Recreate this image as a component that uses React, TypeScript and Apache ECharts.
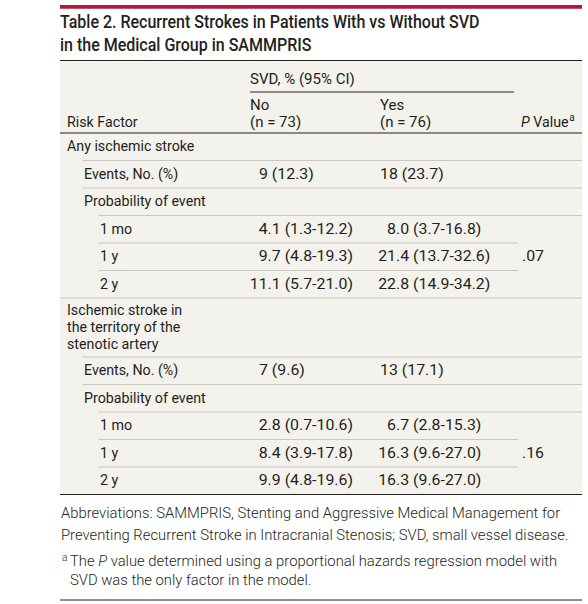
import React, { useEffect, useRef } from "react";
import * as echarts from "echarts";

// ---------- data ----------
const titleLines = [
  "Table 2. Recurrent Strokes in Patients With vs Without SVD",
  "in the Medical Group in SAMMPRIS",
];
const groupHeader = "SVD, % (95% CI)";
const stubHeader = "Risk Factor";
const noHeader = ["No", "(n = 73)"];
const yesHeader = ["Yes", "(n = 76)"];
const pHeaderItalic = "P";
const pHeaderRest = " Value";
const pHeaderSup = "a";

const rowLabels = [
  "Any ischemic stroke",
  "Events, No. (%)",
  "Probability of event",
  "1 mo",
  "1 y",
  "2 y",
  "Ischemic stroke in\nthe territory of the\nstenotic artery",
  "Events, No. (%)",
  "Probability of event",
  "1 mo",
  "1 y",
  "2 y",
];
const rowLevels = [0, 1, 1, 2, 2, 2, 0, 1, 1, 2, 2, 2];
const noValues = [
  "", "9 (12.3)", "", "4.1 (1.3-12.2)", "9.7 (4.8-19.3)", "11.1 (5.7-21.0)",
  "", "7 (9.6)", "", "2.8 (0.7-10.6)", "8.4 (3.9-17.8)", "9.9 (4.8-19.6)",
];
const yesValues = [
  "", "18 (23.7)", "", "8.0 (3.7-16.8)", "21.4 (13.7-32.6)", "22.8 (14.9-34.2)",
  "", "13 (17.1)", "", "6.7 (2.8-15.3)", "16.3 (9.6-27.0)", "16.3 (9.6-27.0)",
];
const pValues = ["", "", "", "", ".07", "", "", "", "", "", ".16", ""];

const abbreviationLines = [
  "Abbreviations: SAMMPRIS, Stenting and Aggressive Medical Management for",
  "Preventing Recurrent Stroke in Intracranial Stenosis; SVD, small vessel disease.",
];
const footnoteMark = "a";
const footnoteLines = [
  "The {i|P} value determined using a proportional hazards regression model with",
  "SVD was the only factor in the model.",
];

// ---------- layout / style ----------
const W = 588;
const H = 604;
const FONT = "Roboto, 'Liberation Sans', sans-serif";
const INK = "#231f20";
const BEIGE = "#f4f2ec";
const RULE_GRAY = "#c9c6bf";
const RED = "#b3173c";
const L = 60;
const R = 582;
const BODY_SIZE = 15;
const FOOT_SIZE = 14.8;
const LABEL_SCALE = 0.95;
const VALUE_SCALE = 1.06;
const labelX = [67, 84, 100];
const noLeft = 259;
const yesLeft = 380;
const noDecimal = 267.6;
const yesDecimal = 396;
const pX = 522;
const pInnerEnd = 518;
const headerTop = 60.5;
const headerBottom = 133;
const rowBase = 27.5;
const rowExtraLine = 15.75;
const lineH = 16.7;

function measure(text: string, size: number, weight = "normal", style = "normal") {
  const c = document.createElement("canvas").getContext("2d")!;
  c.font = `${style} ${weight} ${size}px ${FONT}`;
  return c.measureText(text).width;
}

function txt(x: number, y: number, text: string, o: any = {}) {
  const align = o.align || "left";
  const va = o.va || "middle";
  return {
    type: "text",
    x,
    y,
    silent: true,
    scaleX: o.scaleX || 1,
    style: {
      text,
      fill: o.fill || INK,
      fontSize: o.size || BODY_SIZE,
      fontFamily: FONT,
      fontWeight: o.weight || "normal",
      fontStyle: o.style || "normal",
      align,
      textAlign: align,
      verticalAlign: va,
      textVerticalAlign: va,
      lineHeight: o.lineHeight,
      rich: o.rich,
    },
  };
}

function hline(x1: number, x2: number, y: number, color: string, w = 1) {
  return {
    type: "line",
    silent: true,
    shape: { x1, y1: y, x2, y2: y },
    style: { stroke: color, lineWidth: w },
  };
}

function buildElements() {
  const els: any[] = [];
  // red top bar
  els.push({ type: "rect", silent: true, shape: { x: L, y: 5, width: R - L, height: 3.7 }, style: { fill: RED } });
  // title
  titleLines.forEach((t, i) => {
    els.push(txt(L, 21.5 + i * 23, t, { size: 18, weight: 500, scaleX: 0.89 }));
  });
  // table background
  els.push({ type: "rect", silent: true, shape: { x: L, y: headerTop, width: R - L, height: 494 - headerTop }, style: { fill: BEIGE } });
  els.push(hline(L, R, headerTop, INK, 1));
  // header
  els.push(txt(250, 79, groupHeader));
  els.push(hline(250, 514, 92, INK, 1));
  els.push(txt(250, 105, noHeader[0]));
  els.push(txt(250, 121.5, noHeader[1]));
  els.push(txt(yesLeft, 105, yesHeader[0]));
  els.push(txt(yesLeft, 121.5, yesHeader[1]));
  els.push(txt(labelX[0], 121.5, stubHeader, { scaleX: LABEL_SCALE }));
  els.push(
    txt(521, 121.5, `{i|${pHeaderItalic}}${pHeaderRest}`, {
      scaleX: LABEL_SCALE,
      rich: { i: { fontStyle: "italic", fontSize: BODY_SIZE, fontFamily: FONT, fill: INK } },
    })
  );
  const pw = (measure(pHeaderItalic, BODY_SIZE, "normal", "italic") + measure(pHeaderRest, BODY_SIZE)) * LABEL_SCALE;
  els.push(txt(521 + pw + 0.5, 117, pHeaderSup, { size: 10 }));
  els.push(hline(L, R, headerBottom, INK, 1));

  // body rows
  let top = headerBottom;
  const tops: number[] = [];
  const heights: number[] = [];
  rowLabels.forEach((lab) => {
    const n = lab.split("\n").length;
    const h = rowBase + (n - 1) * rowExtraLine;
    tops.push(top);
    heights.push(h);
    top += h;
  });
  rowLabels.forEach((lab, i) => {
    const cy = tops[i] + heights[i] / 2 - 0.5;
    els.push(txt(labelX[rowLevels[i]], cy, lab, { lineHeight: lineH, scaleX: LABEL_SCALE }));
    const cells: [string, number, number][] = [
      [noValues[i], noLeft, noDecimal],
      [yesValues[i], yesLeft, yesDecimal],
    ];
    cells.forEach(([v, left, dec]) => {
      if (!v) return;
      const first = v.split(" ")[0];
      let x = left;
      if (first.indexOf(".") >= 0) {
        x = dec - measure(first.split(".")[0], BODY_SIZE) * VALUE_SCALE;
      }
      els.push(txt(x, cy, v, { scaleX: VALUE_SCALE }));
    });
    if (pValues[i]) els.push(txt(pX, cy, pValues[i], { scaleX: VALUE_SCALE }));
    // rule below
    const bottom = tops[i] + heights[i];
    if (i === rowLabels.length - 1) {
      els.push(hline(L, R, bottom, INK, 1));
    } else {
      const nx = i + 1;
      if (rowLevels[nx] === 0) {
        els.push(hline(L, R, bottom, RULE_GRAY, 1));
      } else {
        const x1 = labelX[rowLevels[nx]] - 1.5;
        const x2 = rowLevels[i] === 2 && rowLevels[nx] === 2 ? pInnerEnd : R;
        els.push(hline(x1, x2, bottom, RULE_GRAY, 1));
      }
    }
  });

  // footer
  abbreviationLines.forEach((t, i) => {
    els.push(txt(61, 513 + i * 21.5, t, { size: FOOT_SIZE, weight: 300 }));
  });
  els.push(txt(62, 557, footnoteMark, { size: 10, weight: 300 }));
  footnoteLines.forEach((t, i) => {
    els.push(
      txt(70, 561 + i * 19, t, {
        size: FOOT_SIZE,
        weight: 300,
        rich: { i: { fontStyle: "italic", fontSize: FOOT_SIZE, fontWeight: 300, fontFamily: FONT, fill: INK } },
      })
    );
  });
  els.push(hline(L, R, 600, INK, 1));
  return els;
}

export default function App() {
  const ref = useRef<HTMLDivElement>(null);
  useEffect(() => {
    document.body.style.margin = "0";
    const chart = echarts.init(ref.current!, null, { renderer: "svg", width: W, height: H });
    chart.setOption({
      animation: false,
      backgroundColor: "#ffffff",
      graphic: { elements: buildElements() },
    });
    return () => chart.dispose();
  }, []);
  return <div ref={ref} style={{ width: W, height: H }} />;
}
